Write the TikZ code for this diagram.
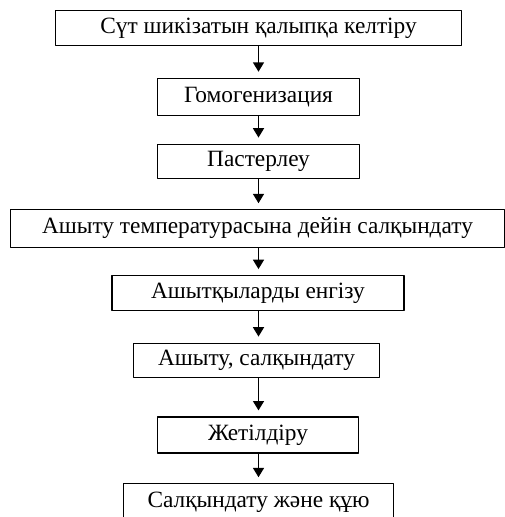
\documentclass[tikz,border=0pt]{standalone}
\usepackage{fontspec}
\setmainfont{Liberation Serif}
\usetikzlibrary{arrows.meta}

\tikzset{
  stage/.style={draw, line width=0.9pt, inner sep=0pt, minimum height=#1},
  stage/.default={26pt},
  flow/.style={-{Triangle[width=8.2pt,length=7pt]}, line width=1.1pt, shorten >=4.5pt}
}

\begin{document}
\begin{tikzpicture}[x=0.75pt, y=-0.75pt, line cap=round, line join=round,
    font=\fontsize{17.5}{20}\selectfont]
        % page frame
        \useasboundingbox (0,0) rectangle (505,517);
        % common axis for the arrows
        \coordinate (axis) at (258.5,0);

        % process stages, top to bottom
        \node[stage, minimum width=304pt] (milk) at (258.5,28) {Сүт шикізатын қалыпқа келтіру};
        \node[stage=28pt, minimum width=152pt] (homog) at (258.5,97) {Гомогенизация};
        \node[stage, minimum width=152pt] (past) at (258.5,161.5) {Пастерлеу};
        \node[stage=28pt, minimum width=370pt] (cool) at (257.5,228.5) {Ашыту температурасына дейін салқындату};
        \node[stage, minimum width=219pt] (yeast) at (258,293) {Ашытқыларды енгізу};
        \node[stage, minimum width=184pt] (ferm) at (256.5,360.5) {Ашыту, салқындату};
        \node[stage=27pt, minimum width=151pt] (ripen) at (258,435) {Жетілдіру};
        \node[stage=28pt, minimum width=203pt] (fill) at (258.5,502.5) {Салқындату және құю};

        % arrows between stages
        \draw[flow] (milk.south -| axis) -- (homog.north -| axis);
        \draw[flow] (homog.south -| axis) -- (past.north -| axis);
        \draw[flow] (past.south -| axis) -- (cool.north -| axis);
        \draw[flow] (cool.south -| axis) -- (yeast.north -| axis);
        \draw[flow] (yeast.south -| axis) -- (ferm.north -| axis);
        \draw[flow] (ferm.south -| axis) -- (ripen.north -| axis);
        \draw[flow] (ripen.south -| axis) -- (fill.north -| axis);
    \end{tikzpicture}
\end{document}
